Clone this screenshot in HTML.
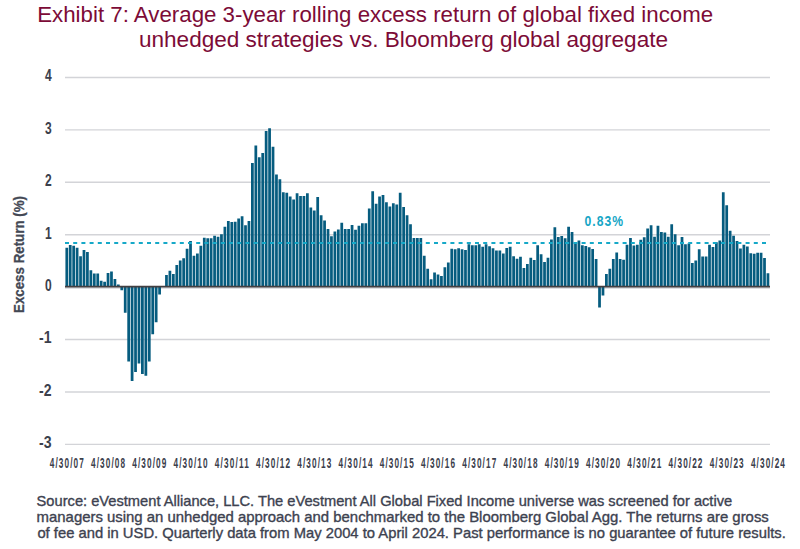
<!DOCTYPE html>
<html><head><meta charset="utf-8"><style>
html,body{margin:0;padding:0;background:#fff;}
body{width:800px;height:549px;overflow:hidden;}
svg{display:block;}
.ax{font-family:"Liberation Sans",Arial,sans-serif;font-weight:bold;font-size:15.6px;fill:#3b404c;}
.axx{font-family:"Liberation Sans",Arial,sans-serif;font-weight:bold;font-size:15.5px;fill:#3b404c;}
.ttl{font-family:"Liberation Sans",Arial,sans-serif;font-size:22px;fill:#7c0b37;}
.fn{font-family:"Liberation Sans",Arial,sans-serif;font-size:14.5px;fill:#3d4250;stroke:#3d4250;stroke-width:0.35px;}
.yt{font-family:"Liberation Sans",Arial,sans-serif;font-weight:bold;font-size:14.2px;fill:#434854;stroke:#434854;stroke-width:0.3px;}
.avg{font-family:"Liberation Sans",Arial,sans-serif;font-weight:bold;font-size:15.2px;fill:#16a6c6;}
</style></head><body>
<svg width="800" height="549" viewBox="0 0 800 549">
<rect width="800" height="549" fill="#fff"/>
<text class="ttl" x="37.2" y="21.9" textLength="676" lengthAdjust="spacingAndGlyphs">Exhibit 7: Average 3-year rolling excess return of global fixed income</text>
<text class="ttl" x="139" y="46.6" textLength="529" lengthAdjust="spacingAndGlyphs">unhedged strategies vs. Bloomberg global aggregate</text>
<line x1="65" y1="77.45" x2="770" y2="77.45" stroke="#d3d4d8" stroke-width="1.4"/>
<line x1="65" y1="129.87" x2="770" y2="129.87" stroke="#d3d4d8" stroke-width="1.4"/>
<line x1="65" y1="182.29" x2="770" y2="182.29" stroke="#d3d4d8" stroke-width="1.4"/>
<line x1="65" y1="234.71" x2="770" y2="234.71" stroke="#d3d4d8" stroke-width="1.4"/>
<line x1="65" y1="288.03" x2="770" y2="288.03" stroke="#d3d4d8" stroke-width="1.4"/>
<line x1="65" y1="339.55" x2="770" y2="339.55" stroke="#d3d4d8" stroke-width="1.4"/>
<line x1="65" y1="391.97" x2="770" y2="391.97" stroke="#d3d4d8" stroke-width="1.4"/>
<line x1="65" y1="444.39" x2="770" y2="444.39" stroke="#d3d4d8" stroke-width="1.4"/>
<path d="M65.42 247.80h2.75v39.30h-2.75zM68.86 244.92h2.75v42.18h-2.75zM72.29 245.70h2.75v41.40h-2.75zM75.73 247.80h2.75v39.30h-2.75zM79.17 256.18h2.75v30.92h-2.75zM82.61 249.90h2.75v37.20h-2.75zM86.04 251.99h2.75v35.11h-2.75zM89.48 270.33h2.75v16.77h-2.75zM92.92 273.48h2.75v13.62h-2.75zM96.35 273.48h2.75v13.62h-2.75zM99.79 280.81h2.75v6.29h-2.75zM103.23 281.86h2.75v5.24h-2.75zM106.66 272.95h2.75v14.15h-2.75zM110.10 271.38h2.75v15.72h-2.75zM113.54 278.98h2.75v8.12h-2.75zM116.97 284.48h2.75v2.62h-2.75zM120.41 287.10h2.75v3.14h-2.75zM123.85 287.10h2.75v25.68h-2.75zM127.29 287.10h2.75v74.41h-2.75zM130.72 287.10h2.75v93.80h-2.75zM134.16 287.10h2.75v84.89h-2.75zM137.60 287.10h2.75v76.50h-2.75zM141.03 287.10h2.75v86.98h-2.75zM144.47 287.10h2.75v88.56h-2.75zM147.91 287.10h2.75v74.41h-2.75zM151.34 287.10h2.75v47.16h-2.75zM154.78 287.10h2.75v35.11h-2.75zM158.22 287.10h2.75v7.34h-2.75zM165.09 275.05h2.75v12.05h-2.75zM168.53 270.86h2.75v16.24h-2.75zM171.97 274.00h2.75v13.10h-2.75zM175.40 265.09h2.75v22.01h-2.75zM178.84 260.38h2.75v26.72h-2.75zM182.28 258.28h2.75v28.82h-2.75zM185.71 248.85h2.75v38.25h-2.75zM189.15 240.99h2.75v46.11h-2.75zM192.59 255.66h2.75v31.44h-2.75zM196.03 253.56h2.75v33.54h-2.75zM199.46 245.70h2.75v41.40h-2.75zM202.90 237.84h2.75v49.26h-2.75zM206.34 238.37h2.75v48.73h-2.75zM209.77 238.37h2.75v48.73h-2.75zM213.21 235.75h2.75v51.35h-2.75zM216.65 236.80h2.75v50.30h-2.75zM220.08 234.18h2.75v52.92h-2.75zM223.52 226.84h2.75v60.26h-2.75zM226.96 221.08h2.75v66.02h-2.75zM230.40 222.12h2.75v64.98h-2.75zM233.83 221.86h2.75v65.24h-2.75zM237.27 218.46h2.75v68.64h-2.75zM240.71 216.36h2.75v70.74h-2.75zM244.14 225.27h2.75v61.83h-2.75zM247.58 221.08h2.75v66.02h-2.75zM251.02 162.91h2.75v124.19h-2.75zM254.45 145.62h2.75v141.48h-2.75zM257.89 157.15h2.75v129.95h-2.75zM261.33 152.96h2.75v134.14h-2.75zM264.77 130.95h2.75v156.15h-2.75zM268.20 128.33h2.75v158.77h-2.75zM271.64 146.67h2.75v140.43h-2.75zM275.08 174.44h2.75v112.66h-2.75zM278.51 179.16h2.75v107.94h-2.75zM281.95 192.26h2.75v94.84h-2.75zM285.39 192.78h2.75v94.32h-2.75zM288.82 196.45h2.75v90.65h-2.75zM292.26 199.59h2.75v87.51h-2.75zM295.70 193.30h2.75v93.80h-2.75zM299.14 195.92h2.75v91.18h-2.75zM302.57 195.92h2.75v91.18h-2.75zM306.01 193.30h2.75v93.80h-2.75zM309.45 207.45h2.75v79.65h-2.75zM312.88 210.60h2.75v76.50h-2.75zM316.32 196.97h2.75v90.13h-2.75zM319.76 215.31h2.75v71.79h-2.75zM323.19 220.55h2.75v66.55h-2.75zM326.63 228.94h2.75v58.16h-2.75zM330.07 236.27h2.75v50.83h-2.75zM333.51 231.56h2.75v55.54h-2.75zM336.94 229.46h2.75v57.64h-2.75zM340.38 222.65h2.75v64.45h-2.75zM343.82 228.94h2.75v58.16h-2.75zM347.25 228.94h2.75v58.16h-2.75zM350.69 225.01h2.75v62.09h-2.75zM354.13 229.72h2.75v57.38h-2.75zM357.56 225.79h2.75v61.31h-2.75zM361.00 223.17h2.75v63.93h-2.75zM364.44 223.17h2.75v63.93h-2.75zM367.88 208.50h2.75v78.60h-2.75zM371.31 191.21h2.75v95.89h-2.75zM374.75 203.78h2.75v83.32h-2.75zM378.19 196.45h2.75v90.65h-2.75zM381.62 194.88h2.75v92.22h-2.75zM385.06 202.21h2.75v84.89h-2.75zM388.50 206.40h2.75v80.70h-2.75zM391.94 203.26h2.75v83.84h-2.75zM395.37 204.57h2.75v82.53h-2.75zM398.81 192.78h2.75v94.32h-2.75zM402.25 206.93h2.75v80.17h-2.75zM405.68 215.31h2.75v71.79h-2.75zM409.12 224.22h2.75v62.88h-2.75zM412.56 238.11h2.75v48.99h-2.75zM415.99 238.11h2.75v48.99h-2.75zM419.43 238.11h2.75v48.99h-2.75zM422.87 255.66h2.75v31.44h-2.75zM426.31 268.76h2.75v18.34h-2.75zM429.74 279.24h2.75v7.86h-2.75zM433.18 272.43h2.75v14.67h-2.75zM436.62 274.52h2.75v12.58h-2.75zM440.05 276.10h2.75v11.00h-2.75zM443.49 267.19h2.75v19.91h-2.75zM446.93 262.47h2.75v24.63h-2.75zM450.36 248.85h2.75v38.25h-2.75zM453.80 249.37h2.75v37.73h-2.75zM457.24 248.32h2.75v38.78h-2.75zM460.68 249.37h2.75v37.73h-2.75zM464.11 249.90h2.75v37.20h-2.75zM467.55 244.13h2.75v42.97h-2.75zM470.99 245.18h2.75v41.92h-2.75zM474.42 245.18h2.75v41.92h-2.75zM477.86 244.13h2.75v42.97h-2.75zM481.30 246.75h2.75v40.35h-2.75zM484.73 244.13h2.75v42.97h-2.75zM488.17 246.23h2.75v40.87h-2.75zM491.61 248.32h2.75v38.78h-2.75zM495.05 250.42h2.75v36.68h-2.75zM498.48 250.42h2.75v36.68h-2.75zM501.92 253.56h2.75v33.54h-2.75zM505.36 248.06h2.75v39.04h-2.75zM508.79 246.75h2.75v40.35h-2.75zM512.23 256.18h2.75v30.92h-2.75zM515.67 258.80h2.75v28.30h-2.75zM519.10 256.71h2.75v30.39h-2.75zM522.54 267.97h2.75v19.13h-2.75zM525.98 264.04h2.75v23.06h-2.75zM529.41 257.76h2.75v29.34h-2.75zM532.85 260.11h2.75v26.99h-2.75zM536.29 245.18h2.75v41.92h-2.75zM539.73 254.35h2.75v32.75h-2.75zM543.16 261.95h2.75v25.15h-2.75zM546.60 257.76h2.75v29.34h-2.75zM550.04 239.42h2.75v47.68h-2.75zM553.47 227.36h2.75v59.74h-2.75zM556.91 237.06h2.75v50.04h-2.75zM560.35 236.01h2.75v51.09h-2.75zM563.78 238.37h2.75v48.73h-2.75zM567.22 226.84h2.75v60.26h-2.75zM570.66 232.08h2.75v55.02h-2.75zM574.10 243.61h2.75v43.49h-2.75zM577.53 240.46h2.75v46.64h-2.75zM580.97 245.18h2.75v41.92h-2.75zM584.41 245.97h2.75v41.13h-2.75zM587.84 247.28h2.75v39.82h-2.75zM591.28 249.11h2.75v37.99h-2.75zM594.72 259.07h2.75v28.03h-2.75zM598.15 287.10h2.75v20.44h-2.75zM601.59 287.10h2.75v8.38h-2.75zM605.03 274.00h2.75v13.10h-2.75zM608.47 268.76h2.75v18.34h-2.75zM611.90 259.07h2.75v28.03h-2.75zM615.34 252.52h2.75v34.58h-2.75zM618.78 259.07h2.75v28.03h-2.75zM622.21 259.85h2.75v27.25h-2.75zM625.65 244.66h2.75v42.44h-2.75zM629.09 238.11h2.75v48.99h-2.75zM632.52 245.44h2.75v41.66h-2.75zM635.96 244.66h2.75v42.44h-2.75zM639.40 239.68h2.75v47.42h-2.75zM642.84 237.32h2.75v49.78h-2.75zM646.27 228.41h2.75v58.69h-2.75zM649.71 225.27h2.75v61.83h-2.75zM653.15 236.80h2.75v50.30h-2.75zM656.58 225.79h2.75v61.31h-2.75zM660.02 232.08h2.75v55.02h-2.75zM663.46 232.60h2.75v54.50h-2.75zM666.89 236.80h2.75v50.30h-2.75zM670.33 224.22h2.75v62.88h-2.75zM673.77 234.18h2.75v52.92h-2.75zM677.21 245.18h2.75v41.92h-2.75zM680.64 237.06h2.75v50.04h-2.75zM684.08 244.13h2.75v42.97h-2.75zM687.52 243.61h2.75v43.49h-2.75zM690.95 263.00h2.75v24.10h-2.75zM694.39 260.38h2.75v26.72h-2.75zM697.83 249.37h2.75v37.73h-2.75zM701.26 256.50h2.75v30.60h-2.75zM704.70 256.50h2.75v30.60h-2.75zM708.14 244.66h2.75v42.44h-2.75zM711.58 247.12h2.75v39.98h-2.75zM715.01 242.14h2.75v44.96h-2.75zM718.45 240.46h2.75v46.64h-2.75zM721.89 192.26h2.75v94.84h-2.75zM725.32 205.36h2.75v81.74h-2.75zM728.76 230.67h2.75v56.43h-2.75zM732.20 235.75h2.75v51.35h-2.75zM735.63 240.99h2.75v46.11h-2.75zM739.07 248.48h2.75v38.62h-2.75zM742.51 244.66h2.75v42.44h-2.75zM745.95 246.54h2.75v40.56h-2.75zM749.38 253.25h2.75v33.85h-2.75zM752.82 253.83h2.75v33.27h-2.75zM756.26 252.67h2.75v34.43h-2.75zM759.69 252.67h2.75v34.43h-2.75zM763.13 258.02h2.75v29.08h-2.75zM766.57 273.32h2.75v13.78h-2.75z" fill="#065c7f"/>
<line x1="65" y1="286.6" x2="770" y2="286.6" stroke="#433f41" stroke-width="1.7"/>
<line x1="65" y1="243.00" x2="770" y2="243.00" stroke="#16a9c8" stroke-width="2" stroke-dasharray="4 4.2"/>
<text x="51.6" y="81.30" text-anchor="end" class="ax" textLength="6.7" lengthAdjust="spacingAndGlyphs">4</text>
<text x="51.6" y="133.70" text-anchor="end" class="ax" textLength="6.7" lengthAdjust="spacingAndGlyphs">3</text>
<text x="51.6" y="186.10" text-anchor="end" class="ax" textLength="6.7" lengthAdjust="spacingAndGlyphs">2</text>
<text x="51.6" y="238.50" text-anchor="end" class="ax" textLength="6.7" lengthAdjust="spacingAndGlyphs">1</text>
<text x="51.6" y="290.90" text-anchor="end" class="ax" textLength="6.7" lengthAdjust="spacingAndGlyphs">0</text>
<text x="51.6" y="343.30" text-anchor="end" class="ax" textLength="12.5" lengthAdjust="spacingAndGlyphs">-1</text>
<text x="51.6" y="395.70" text-anchor="end" class="ax" textLength="12.5" lengthAdjust="spacingAndGlyphs">-2</text>
<text x="51.6" y="448.10" text-anchor="end" class="ax" textLength="12.5" lengthAdjust="spacingAndGlyphs">-3</text>
<text transform="scale(0.53,1)" x="93.95" y="468.4" class="axx" textLength="64.15" lengthAdjust="spacing">4/30/07</text>
<text transform="scale(0.53,1)" x="171.77" y="468.4" class="axx" textLength="64.15" lengthAdjust="spacing">4/30/08</text>
<text transform="scale(0.53,1)" x="249.59" y="468.4" class="axx" textLength="64.15" lengthAdjust="spacing">4/30/09</text>
<text transform="scale(0.53,1)" x="327.41" y="468.4" class="axx" textLength="64.15" lengthAdjust="spacing">4/30/10</text>
<text transform="scale(0.53,1)" x="405.23" y="468.4" class="axx" textLength="64.15" lengthAdjust="spacing">4/30/11</text>
<text transform="scale(0.53,1)" x="483.05" y="468.4" class="axx" textLength="64.15" lengthAdjust="spacing">4/30/12</text>
<text transform="scale(0.53,1)" x="560.87" y="468.4" class="axx" textLength="64.15" lengthAdjust="spacing">4/30/13</text>
<text transform="scale(0.53,1)" x="638.68" y="468.4" class="axx" textLength="64.15" lengthAdjust="spacing">4/30/14</text>
<text transform="scale(0.53,1)" x="716.50" y="468.4" class="axx" textLength="64.15" lengthAdjust="spacing">4/30/15</text>
<text transform="scale(0.53,1)" x="794.32" y="468.4" class="axx" textLength="64.15" lengthAdjust="spacing">4/30/16</text>
<text transform="scale(0.53,1)" x="872.14" y="468.4" class="axx" textLength="64.15" lengthAdjust="spacing">4/30/17</text>
<text transform="scale(0.53,1)" x="949.96" y="468.4" class="axx" textLength="64.15" lengthAdjust="spacing">4/30/18</text>
<text transform="scale(0.53,1)" x="1027.78" y="468.4" class="axx" textLength="64.15" lengthAdjust="spacing">4/30/19</text>
<text transform="scale(0.53,1)" x="1105.60" y="468.4" class="axx" textLength="64.15" lengthAdjust="spacing">4/30/20</text>
<text transform="scale(0.53,1)" x="1183.42" y="468.4" class="axx" textLength="64.15" lengthAdjust="spacing">4/30/21</text>
<text transform="scale(0.53,1)" x="1261.24" y="468.4" class="axx" textLength="64.15" lengthAdjust="spacing">4/30/22</text>
<text transform="scale(0.53,1)" x="1339.05" y="468.4" class="axx" textLength="64.15" lengthAdjust="spacing">4/30/23</text>
<text transform="scale(0.53,1)" x="1416.87" y="468.4" class="axx" textLength="64.15" lengthAdjust="spacing">4/30/24</text>
<text class="avg" transform="scale(0.8,1)" x="730.75" y="225.6" textLength="48.00" lengthAdjust="spacing">0.83%</text>
<text class="yt" transform="translate(24.2,313) rotate(-90)" x="0" y="0" textLength="117" lengthAdjust="spacingAndGlyphs">Excess Return (%)</text>
<text class="fn" x="36.6" y="505.5" textLength="695.6" lengthAdjust="spacingAndGlyphs">Source: eVestment Alliance, LLC. The eVestment All Global Fixed Income universe was screened for active</text>
<text class="fn" x="36.6" y="522.4" textLength="732.2" lengthAdjust="spacingAndGlyphs">managers using an unhedged approach and benchmarked to the Bloomberg Global Agg. The returns are gross</text>
<text class="fn" x="37.4" y="538.4" textLength="748.4" lengthAdjust="spacingAndGlyphs">of fee and in USD. Quarterly data from May 2004 to April 2024. Past performance is no guarantee of future results.</text>
</svg>
</body></html>
